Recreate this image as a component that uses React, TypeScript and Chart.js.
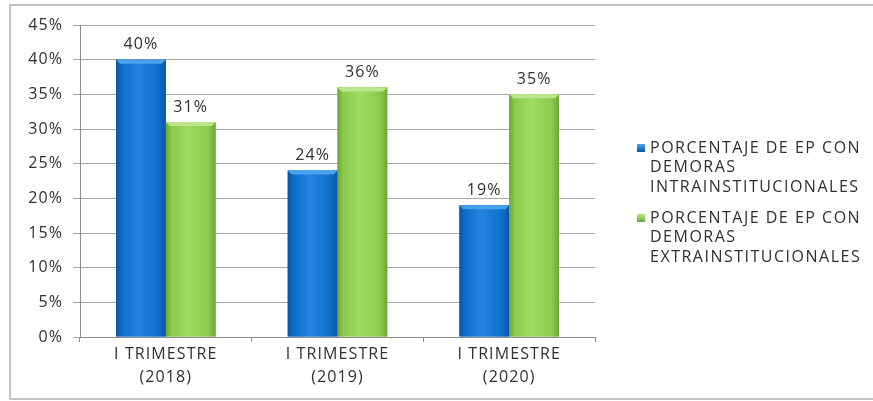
import React, { useEffect, useRef } from "react";
import { Chart, registerables } from "chart.js";

Chart.register(...registerables);

// Category labels (two lines each)
const categories: string[][] = [
  ["I TRIMESTRE", "(2018)"],
  ["I TRIMESTRE", "(2019)"],
  ["I TRIMESTRE", "(2020)"],
];

// Series values, in percent
const intraValues = [40, 24, 19];
const extraValues = [31, 36, 35];

// Legend text, one entry per line
const intraLabel = ["PORCENTAJE DE EP CON", "DEMORAS", "INTRAINSTITUCIONALES"];
const extraLabel = ["PORCENTAJE DE EP CON", "DEMORAS", "EXTRAINSTITUCIONALES"];

// Y axis range
const yMax = 45;
const yStep = 5;

const FONT = "'Open Sans', Lato, sans-serif";
const TEXT = "#303030";
const SPACING = "1.1px";

const palette = [
  { edge: "#0a55a3", main: "#0f6ecb", light: "#2285e0", top: "#4aa2ee" },
  { edge: "#6aa834", main: "#8ccb4c", light: "#9fdb62", top: "#bde68c" },
];

// Slightly wider text tracking for every label drawn on the canvas
const tracking = {
  id: "tracking",
  beforeInit(chart: any) {
    chart.ctx.letterSpacing = SPACING;
  },
  beforeDraw(chart: any) {
    chart.ctx.letterSpacing = SPACING;
  },
};

// Shades each bar like a cylinder with a lighter bevel on top
const shadeBars = {
  id: "shadeBars",
  afterDatasetsDraw(chart: any) {
    const ctx = chart.ctx;
    chart.data.datasets.forEach((_: any, di: number) => {
      const meta = chart.getDatasetMeta(di);
      const c = palette[di];
      meta.data.forEach((bar: any) => {
        const { x, y, base, width } = bar.getProps(["x", "y", "base", "width"], true);
        const left = x - width / 2;
        const h = base - y;
        const g = ctx.createLinearGradient(left, 0, left + width, 0);
        g.addColorStop(0, c.edge);
        g.addColorStop(0.12, c.main);
        g.addColorStop(0.45, c.light);
        g.addColorStop(0.85, c.main);
        g.addColorStop(1, c.edge);
        ctx.save();
        ctx.fillStyle = g;
        ctx.fillRect(left, y, width, h);
        // top bevel
        const bev = 4;
        ctx.beginPath();
        ctx.moveTo(left, y);
        ctx.lineTo(left + width, y);
        ctx.lineTo(left + width - bev, y + bev);
        ctx.lineTo(left + bev, y + bev);
        ctx.closePath();
        ctx.fillStyle = c.top;
        ctx.fill();
        ctx.restore();
      });
    });
  },
};

// Value labels above each bar
const valueLabels = {
  id: "valueLabels",
  afterDatasetsDraw(chart: any) {
    const ctx = chart.ctx;
    ctx.save();
    ctx.font = `16px ${FONT}`;
    ctx.fillStyle = TEXT;
    ctx.textAlign = "center";
    ctx.textBaseline = "bottom";
    chart.data.datasets.forEach((ds: any, di: number) => {
      const meta = chart.getDatasetMeta(di);
      meta.data.forEach((bar: any, i: number) => {
        const { x, y } = bar.getProps(["x", "y"], true);
        ctx.fillText(`${ds.data[i]}%`, x, y - 7);
      });
    });
    ctx.restore();
  },
};

// Legend on the right with wrapped labels, plus the outer frame
const sideLegend = {
  id: "sideLegend",
  afterDraw(chart: any) {
    const ctx = chart.ctx;
    ctx.save();
    // frame
    ctx.strokeStyle = "#c4c4c4";
    ctx.lineWidth = 2;
    ctx.strokeRect(10, 5, chart.width + 10, chart.height - 7);

    const entries = [
      { lines: intraLabel, c: palette[0] },
      { lines: extraLabel, c: palette[1] },
    ];
    ctx.font = `16px ${FONT}`;
    ctx.letterSpacing = "1.5px";
    ctx.textBaseline = "middle";
    ctx.textAlign = "left";
    let yPos = 148;
    entries.forEach((e) => {
      const g = ctx.createLinearGradient(637, yPos - 4, 637, yPos + 4);
      g.addColorStop(0, e.c.top);
      g.addColorStop(1, e.c.edge);
      ctx.fillStyle = g;
      ctx.fillRect(637, yPos - 4, 8, 8);
      ctx.fillStyle = TEXT;
      e.lines.forEach((ln, k) => {
        ctx.fillText(ln, 650, yPos + k * 19.5);
      });
      yPos += 70;
    });
    ctx.restore();
  },
};

export default function App() {
  const ref = useRef<HTMLCanvasElement | null>(null);

  useEffect(() => {
    document.body.style.margin = "0";
    const canvas = ref.current;
    if (!canvas) return;
    const chart = new Chart(canvas, {
      type: "bar",
      data: {
        labels: categories,
        datasets: [
          {
            label: intraLabel.join(" "),
            data: intraValues,
            backgroundColor: palette[0].main,
            categoryPercentage: 0.58,
            barPercentage: 1.0,
          },
          {
            label: extraLabel.join(" "),
            data: extraValues,
            backgroundColor: palette[1].main,
            categoryPercentage: 0.58,
            barPercentage: 1.0,
          },
        ],
      },
      options: {
        responsive: false,
        animation: false,
        devicePixelRatio: 1,
        layout: { padding: { left: 10, top: 25, right: 278, bottom: 0 } },
        plugins: {
          legend: { display: false },
          tooltip: { enabled: false },
          title: { display: false },
        },
        scales: {
          x: {
            grid: {
              display: true,
              drawOnChartArea: false,
              drawTicks: true,
              tickLength: 5,
              color: "#8c8c8c",
            },
            border: { display: true, color: "#8c8c8c", width: 1 },
            ticks: {
              color: TEXT,
              font: { family: FONT, size: 16, lineHeight: 1.45 },
              padding: 1,
              maxRotation: 0,
            },
            afterFit(scale: any) {
              scale.height = 64;
            },
          },
          y: {
            min: 0,
            max: yMax,
            ticks: {
              stepSize: yStep,
              color: TEXT,
              font: { family: FONT, size: 16 },
              padding: 10,
              callback: (v: any) => `${v}%`,
            },
            grid: {
              color: "#a6a6a6",
              tickLength: 7,
              lineWidth: 1,
            },
            border: { display: true, color: "#8c8c8c", width: 1 },
            afterFit(scale: any) {
              scale.width = 70;
            },
          },
        },
      },
      plugins: [tracking, shadeBars, valueLabels, sideLegend],
    });
    return () => chart.destroy();
  }, []);

  return <canvas ref={ref} width={873} height={401} style={{ display: "block" }} />;
}
